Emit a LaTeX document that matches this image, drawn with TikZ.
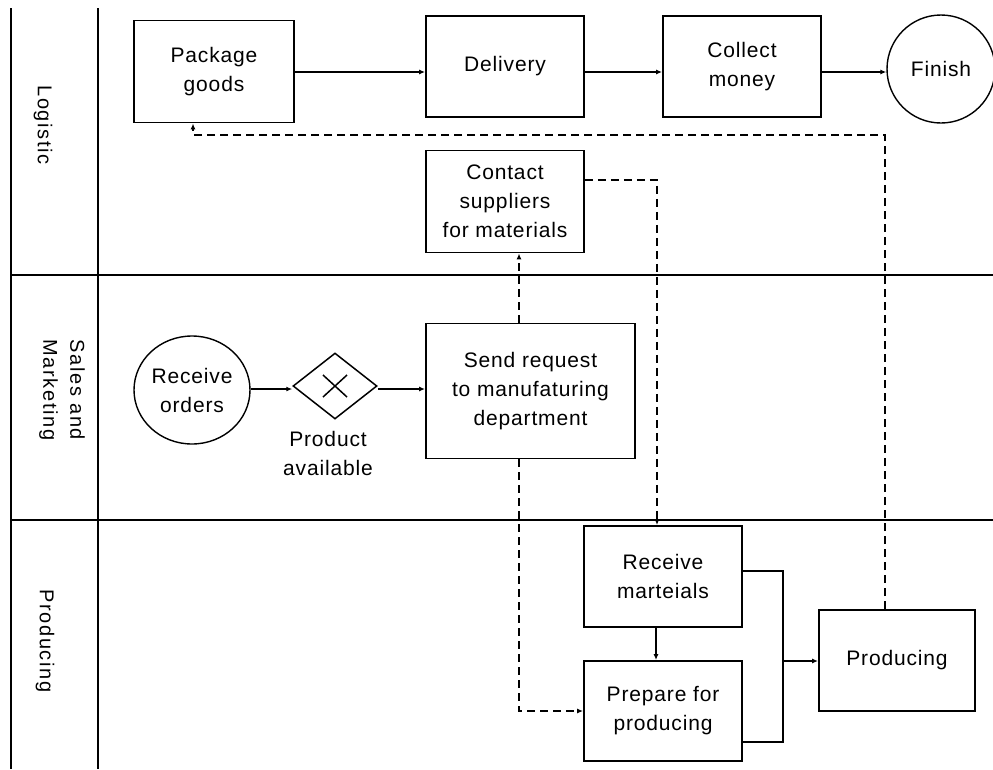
\documentclass[tikz,border=0pt]{standalone}
\usepackage{fontspec}
\setmainfont{Liberation Sans}[LetterSpace=4]
\usetikzlibrary{arrows.meta,shapes.geometric,calc}

\tikzset{
  lane/.style={line width=1.8pt},
  box/.style={draw, line width=1.9pt, inner sep=0pt, align=center,
    font=\fontsize{21}{29}\selectfont},
  round/.style={draw, ellipse, line width=1.4pt, inner sep=0pt, align=center,
    font=\fontsize{21}{29}\selectfont},
  gate/.style={draw, diamond, line width=1.5pt, inner sep=0pt,
    minimum width=84pt, minimum height=66pt},
  plain/.style={inner sep=0pt, align=center, font=\fontsize{21}{29}\selectfont},
  lanelabel/.style={rotate=-90, inner sep=0pt, align=center,
    font=\fontsize{20}{27}\selectfont\addfontfeatures{LetterSpace=8}},
  conn/.style={line width=1.5pt},
  flow/.style={conn, -{Latex[length=6pt,width=5pt]}},
  dflow/.style={flow, dash pattern=on 8pt off 5pt}
}

\begin{document}
\begin{tikzpicture}[x=1pt,y=-1pt]
\useasboundingbox (0,0) rectangle (993,769);

% swimlane frame
\coordinate (vl1) at (11,8);
\coordinate (vl2) at (98,8);
\draw[lane] (vl1) -- (11,769);
\draw[lane] (vl2) -- (98,769);
\draw[lane] (11,275) -- (993,275);
\draw[lane] (11,520) -- (993,520);

% lane titles
\node[lanelabel] (lLog) at (43,125) {Logistic};
\node[lanelabel] (lSal) at (62,390) {Sales and\\Marketing};
\node[lanelabel] (lPro) at (45,641) {Producing};

% Logistic lane
\node[box, minimum width=160pt, minimum height=102pt] (pack) at (214,71.5) {Package\\goods};
\node[box, minimum width=158pt, minimum height=101pt] (deliv) at (505,66.5) {Delivery};
\node[box, minimum width=158pt, minimum height=101pt] (coll) at (742,66.5) {Collect\\money};
\node[round, minimum width=108pt, minimum height=108pt] (fin) at (941,69) {Finish};
\node[box, minimum width=158pt, minimum height=102pt] (cont) at (505,201.5) {Contact\\suppliers\\for materials};

% Sales and Marketing lane
\node[round, minimum width=116pt, minimum height=108pt] (recv) at (192,390) {Receive\\orders};
\node[gate] (gw) at (335,386) {};
\draw[line width=1.5pt] ($(gw.center)+(-12,-11)$) -- ($(gw.center)+(12,11)$);
\draw[line width=1.5pt] ($(gw.center)+(-12,11)$) -- ($(gw.center)+(12,-11)$);
\node[plain] (gwlab) at (328,453) {Product\\available};
\node[box, minimum width=209pt, minimum height=135pt] (send) at (530.5,391) {Send request\\to manufaturing\\department};

% Producing lane
\node[box, minimum width=158pt, minimum height=101pt] (rmat) at (663,576.5) {Receive\\marteials};
\node[box, minimum width=158pt, minimum height=100pt] (prep) at (663,711) {Prepare for\\producing};
\node[box, minimum width=156pt, minimum height=101pt] (prod) at (897,660.5) {Producing};

% routing points
\coordinate (ty) at (0,72);
\coordinate (ry) at (0,389);
\coordinate (b1) at (885,135);
\coordinate (b2) at (193,135);
\coordinate (s1) at (657,180);
\coordinate (s2) at (519,711);
\coordinate (sx) at (519,0);
\coordinate (mx) at (656,0);
\coordinate (jt) at (783,571);
\coordinate (jm) at (783,661);
\coordinate (jb) at (783,742);

% solid flows
\draw[flow] (pack.east |- ty) -- (deliv.west |- ty);
\draw[flow] (deliv.east |- ty) -- (coll.west |- ty);
\draw[flow] (coll.east |- ty) -- (fin.west |- ty);
\draw[flow] (recv.east |- ry) -- (gw.west |- ry);
\draw[flow] (gw.east |- ry) -- (send.west |- ry);
\draw[flow] (rmat.south -| mx) -- (prep.north -| mx);
\draw[conn] (rmat.east |- jt) -- (jt) -- (jb) -- (prep.east |- jb);
\draw[flow] (jm) -- (prod.west |- jm);

% message flows
\draw[dflow] (prod.north -| b1) -- (b1) -- (b2) -- (pack.south -| b2);
\draw[dflow] (cont.east |- s1) -- (s1) -- (rmat.north -| s1);
\draw[dflow] (send.north -| sx) -- (cont.south -| sx);
\draw[dflow] (send.south -| s2) -- (s2) -- (prep.west |- s2);
\end{tikzpicture}
\end{document}
